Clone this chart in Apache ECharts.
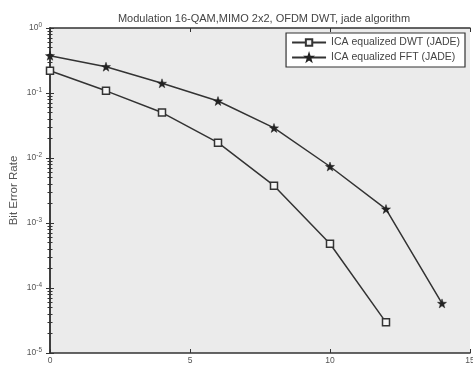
<!DOCTYPE html>
<html><head><meta charset="utf-8">
<script src="https://cdn.jsdelivr.net/npm/echarts@6/dist/echarts.min.js"></script>
<style>html,body{margin:0;padding:0;background:#fff}#c{width:473px;height:368px}</style>
</head><body><div id="c"></div>
<script>
const snr = [0, 2, 4, 6, 8, 10, 12, 14];
const dwt = [0.22, 0.108, 0.050, 0.0172, 0.00375, 0.00048, 0.0000296, null];
const fft = [0.375, 0.254, 0.141, 0.0753, 0.029, 0.0074, 0.00164, 0.000058];
const seriesNames = ['ICA equalized DWT (JADE)', 'ICA equalized FFT (JADE)'];
const titleText = 'Modulation 16-QAM,MIMO 2x2, OFDM DWT, jade algorithm';
const yName = 'Bit Error Rate';

const star = 'path://M0,-10L2.35,-3.24L9.51,-3.09L3.8,1.24L5.88,8.09L0,4L-5.88,8.09L-3.8,1.24L-9.51,-3.09L-2.35,-3.24Z';
const pair = (xs, ys) => xs.map((x, i) => [x, ys[i]]).filter(p => p[1] != null);
const ink = '#333';
const yLabel = v => {
  const e = Math.round(Math.log10(v));
  return '{b|10}{s|' + e + '}';
};
const axisCommon = {
  axisLine: {show: true, lineStyle: {color: ink, width: 1.5}},
  axisTick: {show: true, inside: true, length: 4, lineStyle: {color: ink}},
  splitLine: {show: false}
};
const chart = echarts.init(document.getElementById('c'));
chart.setOption({
  backgroundColor: '#fff',
  animation: false,
  title: {text: titleText, left: 259, top: 8, textAlign: 'center',
    textStyle: {fontSize: 11, fontWeight: 'normal', color: '#444', fontFamily: 'Liberation Sans'}},
  grid: {left: 50, right: 3, top: 28, bottom: 15, show: true, backgroundColor: '#ebebeb', borderWidth: 0,
    outerBoundsMode: 'none', containLabel: false},
  legend: {
    orient: 'vertical', right: 8, top: 33, itemWidth: 34, itemHeight: 8, itemGap: 4,
    backgroundColor: '#fff', borderColor: ink, borderWidth: 1.2, borderRadius: 0, padding: [4, 5, 4, 5],
    textStyle: {fontSize: 10.5, color: '#444', fontFamily: 'Liberation Sans'},
    data: seriesNames
  },
  xAxis: [
    Object.assign({type: 'value', min: 0, max: 15, interval: 5, position: 'bottom',
      axisLabel: {fontSize: 8.5, color: '#555', margin: 3, fontFamily: 'Liberation Sans'}}, axisCommon),
    Object.assign({type: 'value', min: 0, max: 15, interval: 5, position: 'top',
      axisLabel: {show: false}}, axisCommon)
  ],
  yAxis: [
    Object.assign({type: 'log', min: 1e-5, max: 1, logBase: 10, position: 'left',
      name: yName, nameLocation: 'middle', nameGap: 30, nameRotate: 90, nameMoveOverlap: false,
      nameTextStyle: {fontSize: 11.5, color: '#555', fontFamily: 'Liberation Sans'},
      minorTick: {show: true, splitNumber: 9, length: 2.5, lineStyle: {color: ink}},
      axisLabel: {formatter: yLabel, margin: 8, rich: {
        b: {fontSize: 8.5, color: '#555', fontFamily: 'Liberation Sans'},
        s: {fontSize: 6.5, color: '#555', verticalAlign: 'top', padding: [0, 0, 6, 0], fontFamily: 'Liberation Sans'}}}
    }, axisCommon),
    Object.assign({type: 'log', min: 1e-5, max: 1, logBase: 10, position: 'right',
      minorTick: {show: true, splitNumber: 9, length: 2.5, lineStyle: {color: ink}},
      axisLabel: {show: false}}, axisCommon)
  ],
  series: [
    {name: seriesNames[0], type: 'line', data: pair(snr, dwt), symbol: 'rect', symbolSize: 7,
      lineStyle: {color: ink, width: 1.5}, itemStyle: {color: '#f5f5f5', borderColor: ink, borderWidth: 1.5}},
    {name: seriesNames[1], type: 'line', data: pair(snr, fft), symbol: star, symbolSize: 9,
      lineStyle: {color: ink, width: 1.5}, itemStyle: {color: '#222', borderColor: '#222', borderWidth: 0.5}}
  ]
});
</script></body></html>
